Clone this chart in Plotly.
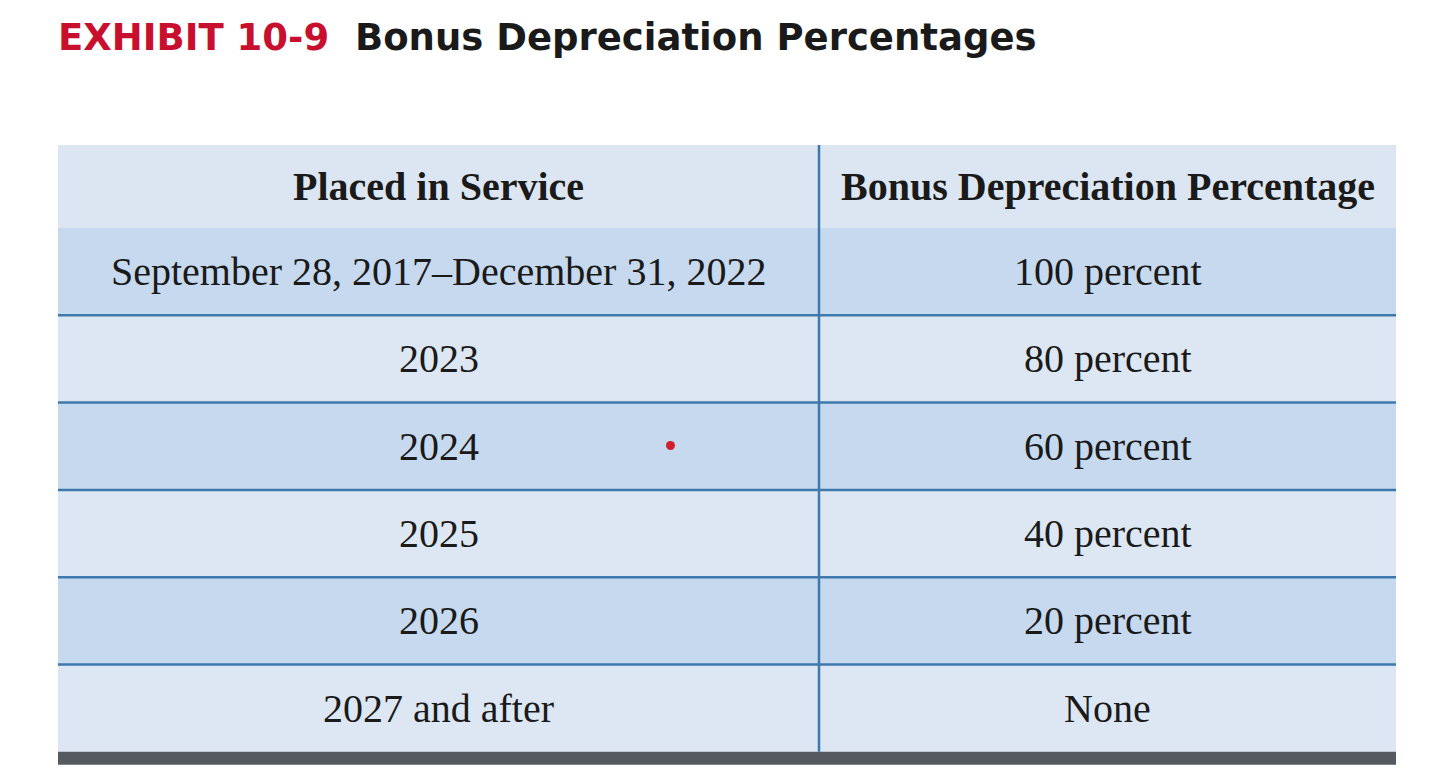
import plotly.graph_objects as go

placed = ["September 28, 2017–December 31, 2022", "2023", "2024", "2025", "2026", "2027 and after"]
bonus = ["100 percent", "80 percent", "60 percent", "40 percent", "20 percent", "None"]
headers = ["<b>Placed in Service</b>", "<b>Bonus Depreciation Percentage</b>"]

W, H = 1440, 771
OFF = 8  # page body margin

def px(x):
    return (x - OFF) / W

def py(y):
    return 1 - (y - OFF) / H

dark_row = "#c6d9ef"
light_row = "#dde7f3"
line_col = "#3f78ad"
left, mid, right = 58, 819, 1396
head_top, head_bot = 145, 228
row_h = 87.3
serif = dict(family="Liberation Serif", size=40, color="#1a1a1a")

fig = go.Figure()
shapes = []
annos = []

# header
shapes.append(dict(type="rect", xref="paper", yref="paper", x0=px(left), x1=px(right),
                   y0=py(head_bot), y1=py(head_top), fillcolor="#dce6f2", line_width=0, layer="below"))
for j, h in enumerate(headers):
    cx = (left + mid) / 2 if j == 0 else (mid + right) / 2
    annos.append(dict(x=px(cx), y=py((head_top + head_bot) / 2), text=h, font=serif))

# body rows
for i in range(len(placed)):
    top = head_bot + i * row_h
    bot = top + row_h
    shapes.append(dict(type="rect", xref="paper", yref="paper", x0=px(left), x1=px(right),
                       y0=py(bot), y1=py(top), fillcolor=dark_row if i % 2 == 0 else light_row,
                       line_width=0, layer="below"))
    if i > 0:
        shapes.append(dict(type="line", xref="paper", yref="paper", x0=px(left), x1=px(right),
                           y0=py(top), y1=py(top), line=dict(color=line_col, width=2.5)))
    annos.append(dict(x=px((left + mid) / 2), y=py((top + bot) / 2), text=placed[i], font=serif))
    annos.append(dict(x=px((mid + right) / 2), y=py((top + bot) / 2), text=bonus[i], font=serif))

table_bot = head_bot + len(placed) * row_h
# column divider
shapes.append(dict(type="line", xref="paper", yref="paper", x0=px(mid), x1=px(mid),
                   y0=py(table_bot), y1=py(head_top), line=dict(color=line_col, width=2.5)))
# dark rule under the table
shapes.append(dict(type="rect", xref="paper", yref="paper", x0=px(left), x1=px(right),
                   y0=py(table_bot + 13), y1=py(table_bot), fillcolor="#555a60", line_width=0))
# small red dot
shapes.append(dict(type="circle", xref="paper", yref="paper", x0=px(666), x1=px(675),
                   y0=py(450), y1=py(441), fillcolor="#d0202e", line_width=0))

for a in annos:
    a.update(xref="paper", yref="paper", showarrow=False, xanchor="center", yanchor="middle")
    fig.add_annotation(**a)

fig.add_annotation(
    xref="paper", yref="paper", x=px(56), y=py(38), xanchor="left", yanchor="middle",
    showarrow=False,
    text="<b><span style='color:#c8102e'>EXHIBIT 10-9</span>  Bonus Depreciation Percentages</b>",
    font=dict(family="DejaVu Sans", size=37, color="#1a1a1a"),
)

fig.update_layout(width=W, height=H, margin=dict(l=0, r=0, t=0, b=0),
                  paper_bgcolor="white", plot_bgcolor="white", shapes=shapes,
                  xaxis=dict(visible=False), yaxis=dict(visible=False))

fig.write_html("out.html")
